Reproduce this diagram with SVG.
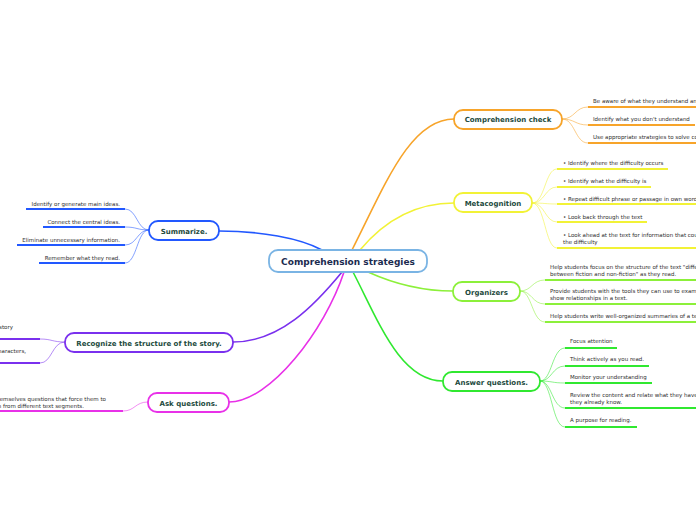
<svg xmlns="http://www.w3.org/2000/svg" width="696" height="520" viewBox="0 0 696 520">
<style>
  .node rect { fill: #ffffff; stroke-width: 1.8; }
  .ntext { font-family: "DejaVu Sans", Verdana, sans-serif; font-weight: bold; font-size: 7px; fill: #1d4a3d; text-anchor: middle; }
  .ctext { font-family: "DejaVu Sans", Verdana, sans-serif; font-weight: bold; font-size: 9px; fill: #1b2b4f; text-anchor: middle; }
  .leaf { font-family: "DejaVu Sans", Verdana, sans-serif; font-size: 5.5px; fill: #2e2e2e; }
  .end { text-anchor: end; }
  .main { fill: none; stroke-width: 1.6; }
  .sub { fill: none; stroke-width: 1; opacity: 0.55; }
  .ul { stroke-width: 2; }
  .orange { stroke: #f7a42a; }
  .yellow { stroke: #f2f236; }
  .lime { stroke: #8cf03a; }
  .green { stroke: #30e830; }
  .blue { stroke: #2258ff; }
  .purple { stroke: #7a30ee; }
  .magenta { stroke: #e831e8; }
</style>
<rect x="0" y="0" width="696" height="520" fill="#ffffff"/>

<g id="connectors">
  <path class="main orange" d="M352,250 C385,185 410,119 454,119"/>
  <path class="main yellow" d="M360,250 C385,220 415,203 454,203"/>
  <path class="main lime" d="M368,272 C390,282 420,291 453,291"/>
  <path class="main green" d="M353,272 C378,320 400,381 443,381"/>
  <path class="main blue" d="M322,250 C300,238 260,231 219,231"/>
  <path class="main purple" d="M342,272 C315,305 280,342 233,342"/>
  <path class="main magenta" d="M344,272 C325,330 270,402 229,402"/>

  <path class="sub orange" d="M562,119 C575,119 575,107 588,107 M562,119 C575,119 575,125 588,125 M562,119 C575,119 575,143 588,143"/>
  <path class="sub yellow" d="M532,203 C545,203 545,169 557,169 M532,203 C545,203 545,187 557,187 M532,203 C545,203 545,204 557,204 M532,203 C545,203 545,222 557,222 M532,203 C545,203 545,248 557,248"/>
  <path class="sub lime" d="M520,291 C532,291 532,280 545,280 M520,291 C532,291 532,304 545,304 M520,291 C532,291 532,322 545,322"/>
  <path class="sub green" d="M540,381 C552,381 552,348 565,348 M540,381 C552,381 552,366 565,366 M540,381 C552,381 552,383 565,383 M540,381 C552,381 552,408 565,408 M540,381 C552,381 552,427 565,427"/>
  <path class="sub blue" d="M149,230 C137,230 137,209 125,209 M149,230 C137,230 137,227 125,227 M149,230 C137,230 137,245 125,245 M149,230 C137,230 137,263 125,263"/>
  <path class="sub purple" d="M65,342 C52,342 52,339 40,339 M65,342 C52,342 52,363 40,363"/>
  <path class="sub magenta" d="M148,402 C135,402 135,411 123,411"/>
</g>

<g id="center">
  <g class="node"><rect x="269" y="250" width="158" height="22" rx="9" stroke="#7ab4e4"/></g>
  <text class="ctext" x="348" y="265">Comprehension strategies</text>
</g>

<g id="comprehension-check">
  <g class="node"><rect x="454" y="110" width="108" height="19" rx="9" stroke="#f7a42a"/></g>
  <text class="ntext" x="508" y="122">Comprehension check</text>
  <g id="cc-leaves">
    <line class="ul orange" x1="588" y1="107" x2="700" y2="107"/>
    <text class="leaf" x="593" y="103">Be aware of what they understand and what they don't</text>
    <line class="ul orange" x1="588" y1="125" x2="695" y2="125"/>
    <text class="leaf" x="593" y="121">Identify what you don't understand</text>
    <line class="ul orange" x1="588" y1="143" x2="700" y2="143"/>
    <text class="leaf" x="593" y="139">Use appropriate strategies to solve comprehension problems</text>
  </g>
</g>

<g id="metacognition">
  <g class="node"><rect x="454" y="193" width="78" height="19" rx="9" stroke="#f2f236"/></g>
  <text class="ntext" x="493" y="205.5">Metacognition</text>
  <g id="mc-leaves">
    <line class="ul yellow" x1="557" y1="169" x2="668" y2="169"/>
    <text class="leaf" x="563" y="165">• Identify where the difficulty occurs</text>
    <line class="ul yellow" x1="557" y1="187" x2="651" y2="187"/>
    <text class="leaf" x="563" y="183">• Identify what the difficulty is</text>
    <line class="ul yellow" x1="557" y1="204" x2="700" y2="204"/>
    <text class="leaf" x="563" y="201">• Repeat difficult phrase or passage in own words</text>
    <line class="ul yellow" x1="557" y1="222" x2="647" y2="222"/>
    <text class="leaf" x="563" y="219">• Look back through the text</text>
    <line class="ul yellow" x1="557" y1="248" x2="700" y2="248"/>
    <text class="leaf" x="563" y="237">• Look ahead at the text for information that could help solve</text>
    <text class="leaf" x="563" y="244">the difficulty</text>
  </g>
</g>

<g id="organizers">
  <g class="node"><rect x="453" y="282" width="67" height="19" rx="9" stroke="#8cf03a"/></g>
  <text class="ntext" x="486.5" y="294.5">Organizers</text>
  <g id="org-leaves">
    <line class="ul lime" x1="545" y1="280" x2="700" y2="280"/>
    <text class="leaf" x="550" y="269">Help students focus on the structure of the text "differences</text>
    <text class="leaf" x="550" y="276">between fiction and non-fiction" as they read.</text>
    <line class="ul lime" x1="545" y1="304" x2="700" y2="304"/>
    <text class="leaf" x="550" y="293">Provide students with the tools they can use to examine and</text>
    <text class="leaf" x="550" y="300">show relationships in a text.</text>
    <line class="ul lime" x1="545" y1="322" x2="700" y2="322"/>
    <text class="leaf" x="550" y="318">Help students write well-organized summaries of a text.</text>
  </g>
</g>

<g id="answer-questions">
  <g class="node"><rect x="443" y="372" width="97" height="19" rx="9" stroke="#30e830"/></g>
  <text class="ntext" x="491.5" y="384.5">Answer questions.</text>
  <g id="aq-leaves">
    <line class="ul green" x1="565" y1="348" x2="617" y2="348"/>
    <text class="leaf" x="570" y="343">Focus attention</text>
    <line class="ul green" x1="565" y1="366" x2="649" y2="366"/>
    <text class="leaf" x="570" y="361">Think actively as you read.</text>
    <line class="ul green" x1="565" y1="383" x2="652" y2="383"/>
    <text class="leaf" x="570" y="379">Monitor your understanding</text>
    <line class="ul green" x1="565" y1="408" x2="700" y2="408"/>
    <text class="leaf" x="570" y="396.5">Review the content and relate what they have learned to what</text>
    <text class="leaf" x="570" y="403.5">they already know.</text>
    <line class="ul green" x1="565" y1="427" x2="637" y2="427"/>
    <text class="leaf" x="570" y="421.5">A purpose for reading.</text>
  </g>
</g>

<g id="summarize">
  <g class="node"><rect x="149" y="221" width="70" height="19" rx="9" stroke="#2258ff"/></g>
  <text class="ntext" x="184" y="233.5">Summarize.</text>
  <g id="sum-leaves">
    <line class="ul blue" x1="26" y1="209" x2="125" y2="209"/>
    <text class="leaf end" x="120" y="205.5">Identify or generate main ideas.</text>
    <line class="ul blue" x1="43" y1="227" x2="125" y2="227"/>
    <text class="leaf end" x="120" y="223.5">Connect the central ideas.</text>
    <line class="ul blue" x1="17" y1="245" x2="125" y2="245"/>
    <text class="leaf end" x="120" y="241.5">Eliminate unnecessary information.</text>
    <line class="ul blue" x1="39" y1="263" x2="125" y2="263"/>
    <text class="leaf end" x="120" y="259.5">Remember what they read.</text>
  </g>
</g>

<g id="recognize-structure">
  <g class="node"><rect x="65" y="333" width="168" height="19" rx="9" stroke="#7a30ee"/></g>
  <text class="ntext" x="149" y="345.5">Recognize the structure of the story.</text>
  <g id="rs-leaves">
    <line class="ul purple" x1="-5" y1="339" x2="40" y2="339"/>
    <text class="leaf end" x="13" y="329">story</text>
    <line class="ul purple" x1="-5" y1="363" x2="40" y2="363"/>
    <text class="leaf end" x="26" y="353">characters,</text>
  </g>
</g>

<g id="ask-questions">
  <g class="node"><rect x="148" y="393" width="81" height="19" rx="9" stroke="#e831e8"/></g>
  <text class="ntext" x="188.5" y="405.5">Ask questions.</text>
  <g id="ask-leaves">
    <line class="ul magenta" x1="-5" y1="411" x2="123" y2="411"/>
    <text class="leaf end" x="106" y="401">themselves questions that force them to</text>
    <text class="leaf end" x="84" y="408">information from different text segments.</text>
  </g>
</g>
</svg>
